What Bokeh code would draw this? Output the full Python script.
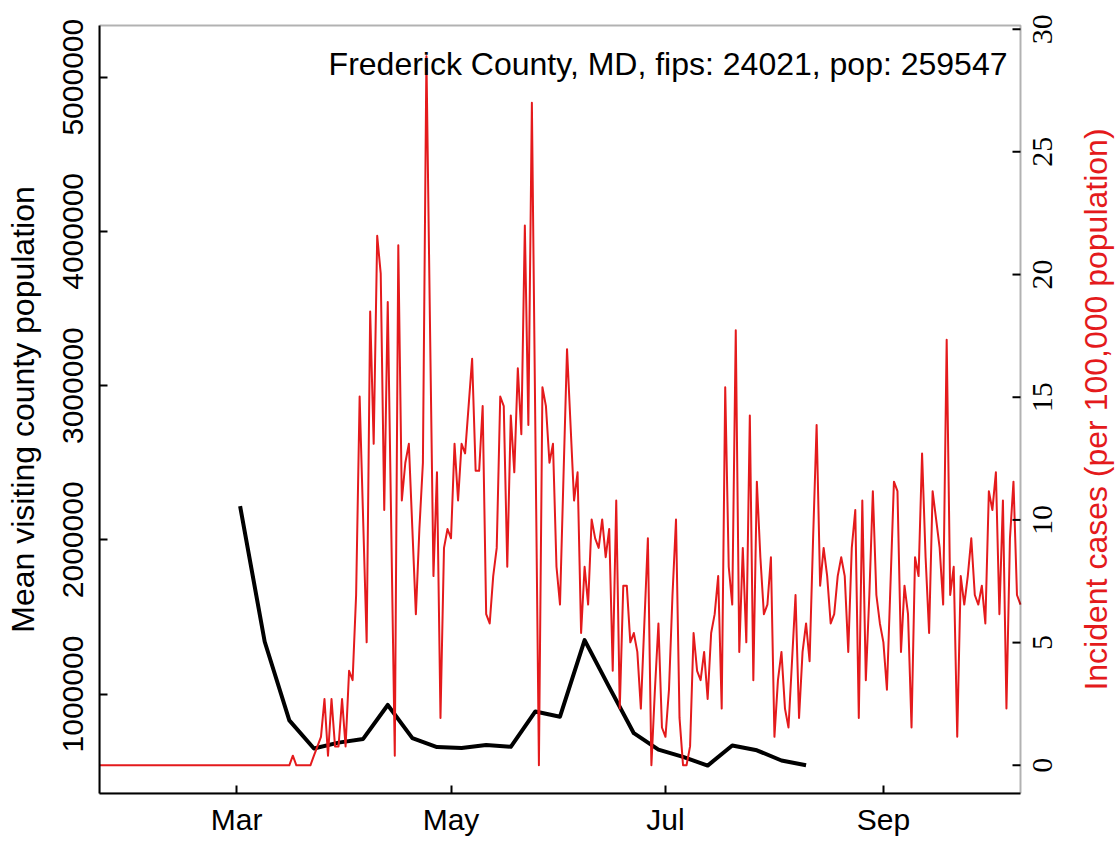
import math
import pandas as pd
from bokeh.plotting import figure
from bokeh.models import (Range1d, LinearAxis, FixedTicker, PrintfTickFormatter,
                          Label, LabelSet, BoxAnnotation, ColumnDataSource)
from bokeh.embed import file_html
from bokeh.resources import INLINE

FONT = "Liberation Sans"
RED = "#E41A1C"

title_text = "Frederick County, MD, fips: 24021, pop: 259547"
left_label = "Mean visiting county population"
right_label = "Incident cases (per 100,000 population)"

# weekly mean visiting county population (weeks starting Monday)
week_first = "2020-03-02"
mean_visiting = [2218000, 1339000, 829000, 647000, 685000, 709000, 929000, 714000,
                 656000, 650000, 669000, 658000, 887000, 853000, 1350000, 1045000,
                 746000, 640000, 593000, 536000, 666000, 635000, 569000, 538000]

# daily incident cases per 100,000 population
case_first = "2020-01-22"
cases_jan = [0, 0, 0, 0, 0, 0, 0, 0, 0, 0]
cases_feb = [0, 0, 0, 0, 0, 0, 0, 0, 0, 0, 0, 0, 0, 0, 0, 0, 0, 0, 0, 0,
             0, 0, 0, 0, 0, 0, 0, 0, 0]
cases_mar = [0, 0, 0, 0, 0, 0, 0, 0, 0, 0, 0, 0, 0, 0, 0, 0, 0.39, 0, 0, 0,
             0, 0, 0.39, 0.77, 1.16, 2.70, 0.39, 2.70, 0.77, 0.77, 2.70]
cases_apr = [0.77, 3.85, 3.47, 6.94, 15.03, 10.02, 5.01, 18.49, 13.10, 21.58,
             20.04, 10.40, 18.88, 9.63, 0.39, 21.19, 10.79, 12.33, 13.10, 9.63,
             6.16, 9.63, 12.33, 28.90, 18.11, 7.71, 11.94, 1.93, 8.86, 9.63]
cases_may = [9.25, 13.10, 10.79, 13.10, 12.71, 14.64, 16.57, 12.00, 12.00, 14.64,
             6.16, 5.78, 7.71, 8.86, 15.03, 14.64, 8.09, 14.26, 11.94, 16.18,
             13.49, 22.00, 13.87, 27.00, 13.50, 0, 15.41, 14.64, 12.33, 13.10, 8.09]
cases_jun = [6.55, 11.80, 16.96, 13.87, 10.79, 11.94, 5.39, 8.09, 6.55, 10.02,
             9.25, 8.86, 10.02, 8.48, 9.63, 3.85, 10.79, 2.31, 7.32, 7.32,
             5.01, 5.39, 4.62, 2.31, 5.80, 9.25, 0, 3.08, 5.78, 1.54]
cases_jul = [1.16, 3.08, 6.94, 10.02, 1.93, 0, 0, 0.77, 5.39, 3.85,
             3.47, 4.62, 2.70, 5.39, 6.16, 7.71, 2.31, 15.41, 8.09, 6.55,
             17.73, 4.62, 8.86, 5.01, 14.26, 3.47, 11.56, 8.48, 6.16, 6.55, 8.48]
cases_aug = [1.16, 3.47, 4.62, 2.31, 1.54, 4.24, 6.94, 1.93, 4.62, 5.78,
             4.24, 9.25, 13.87, 7.32, 8.86, 7.71, 5.78, 6.16, 7.71, 8.48,
             7.71, 4.62, 8.86, 10.40, 1.93, 10.79, 3.47, 6.94, 11.17, 6.94, 5.78]
cases_sep = [5.01, 3.08, 7.32, 11.56, 11.17, 4.62, 7.32, 6.16, 1.54, 8.48,
             7.71, 12.71, 8.48, 5.39, 11.17, 10.02, 8.86, 6.55, 17.34, 6.94,
             8.09, 1.16, 7.71, 6.55, 7.71, 9.25, 6.94, 6.55, 7.32, 5.78]
cases_oct = [11.17, 10.40, 11.94, 6.16, 10.79, 2.31, 9.25, 11.56, 6.94, 6.55]

x_tick_dates = ["2020-03-01", "2020-05-01", "2020-07-01", "2020-09-01"]
x_tick_labels = ["Mar", "May", "Jul", "Sep"]
left_ticks = [1000000, 2000000, 3000000, 4000000, 5000000]
right_ticks = [0, 5, 10, 15, 20, 25, 30]

x_start = pd.Timestamp("2020-01-22")
x_end = pd.Timestamp("2020-10-10")
left_lo, left_hi = 355000, 5335000
right_lo, right_hi = -1.15, 30.15

cases = (cases_jan + cases_feb + cases_mar + cases_apr + cases_may + cases_jun
         + cases_jul + cases_aug + cases_sep + cases_oct)
case_dates = pd.date_range(case_first, periods=len(cases), freq="D")
week_dates = pd.date_range(week_first, periods=len(mean_visiting), freq="7D")

W, H = 1119, 842
ML, MR, MT, MB = 99, 99, 25, 49       # margins of the drawn box
box_w = W - ML - MR
box_h = H - MT - MB
px_per_day = box_w / ((x_end - x_start) / pd.Timedelta(days=1))


def px_to_days(px):
    return pd.Timedelta(days=px / px_per_day)


# the frame runs to the top and right canvas edges so that the right-axis texts
# are not clipped; the R-style box itself is drawn at the data limits
top_ext_left = left_hi + MT / box_h * (left_hi - left_lo)
top_ext_right = right_hi + MT / box_h * (right_hi - right_lo)

p = figure(width=W, height=H, x_axis_type="datetime",
           x_range=Range1d(x_start, x_end + px_to_days(MR)),
           y_range=Range1d(left_lo, top_ext_left),
           output_backend="svg", toolbar_location=None,
           min_border_left=ML, min_border_right=0, min_border_top=0,
           min_border_bottom=MB)
p.extra_y_ranges = {"cases": Range1d(right_lo, top_ext_right)}
p.grid.visible = False
p.outline_line_color = None
p.background_fill_color = "white"
p.border_fill_color = "white"

bottom_axis = p.below[0]
left_axis = p.left[0]
left_title_axis = LinearAxis()
p.add_layout(left_title_axis, "left")

for ax in [bottom_axis, left_axis, left_title_axis]:
    ax.axis_line_color = "black"
    ax.axis_line_width = 2
    ax.major_tick_in = 8
    ax.major_tick_out = 0
    ax.minor_tick_in = 0
    ax.minor_tick_out = 0
    ax.major_tick_line_color = "black"
    ax.major_tick_line_width = 2
    ax.major_label_text_font = FONT
    ax.major_label_text_font_size = "30px"
    ax.major_label_text_color = "black"

tick_ms = [pd.Timestamp(d).value // 10**6 for d in x_tick_dates]
bottom_axis.ticker = FixedTicker(ticks=tick_ms)
bottom_axis.major_label_overrides = {t: lab for t, lab in zip(tick_ms, x_tick_labels)}
bottom_axis.major_label_standoff = 9
bottom_axis.bounds = (x_start, x_end)

left_axis.ticker = FixedTicker(ticks=left_ticks)
left_axis.formatter = PrintfTickFormatter(format="%d")
left_axis.major_label_orientation = "vertical"
left_axis.major_label_standoff = 16
left_axis.bounds = (left_lo, left_hi)

# left axis title, centred on the box like R's ylab
mid_left = (left_lo + left_hi) / 2
left_title_axis.ticker = FixedTicker(ticks=[mid_left])
left_title_axis.major_label_overrides = {mid_left: left_label}
left_title_axis.major_label_orientation = "vertical"
left_title_axis.major_label_text_font_size = "32px"
left_title_axis.major_label_standoff = 20
left_title_axis.major_tick_in = 0
left_title_axis.axis_line_color = None
left_title_axis.bounds = (left_lo, left_hi)

# the box
p.add_layout(BoxAnnotation(left=x_start, right=x_end, bottom=left_lo, top=left_hi,
                           fill_color=None, line_color="black", line_width=2))

src_w = ColumnDataSource(dict(x=week_dates, y=mean_visiting))
src_c = ColumnDataSource(dict(x=case_dates, y=cases))
p.line("x", "y", source=src_w, line_color="black", line_width=4, line_join="round")
p.line("x", "y", source=src_c, line_color=RED, line_width=2, line_join="round",
       y_range_name="cases")

# right axis of the box (ticks inward, labels reading upward as in R)
rt = ColumnDataSource(dict(
    x0=[x_end - px_to_days(8)] * len(right_ticks),
    x1=[x_end] * len(right_ticks),
    xl=[x_end + px_to_days(32)] * len(right_ticks),
    y=right_ticks, t=[str(v) for v in right_ticks]))
p.segment(x0="x0", y0="y", x1="x1", y1="y", source=rt, line_color="black",
          line_width=2, y_range_name="cases")
p.add_layout(LabelSet(x="xl", y="y", text="t", source=rt, y_range_name="cases",
                      angle=math.pi / 2, text_align="center",
                      text_baseline="alphabetic", text_font=FONT,
                      text_font_size="30px", text_color="black"))
p.add_layout(Label(x=x_end + px_to_days(75), y=(right_lo + right_hi) / 2,
                   y_range_name="cases", text=right_label, angle=math.pi / 2,
                   text_align="center", text_baseline="alphabetic",
                   text_font=FONT, text_font_size="32px", text_color=RED))

p.add_layout(Label(x=x_end - px_to_days(13), y=left_ticks[-1] + 85000,
                   text=title_text, text_align="right", text_baseline="alphabetic",
                   text_font=FONT, text_font_size="32px", text_color="black"))

open("out.html", "w").write(file_html(p, INLINE))
